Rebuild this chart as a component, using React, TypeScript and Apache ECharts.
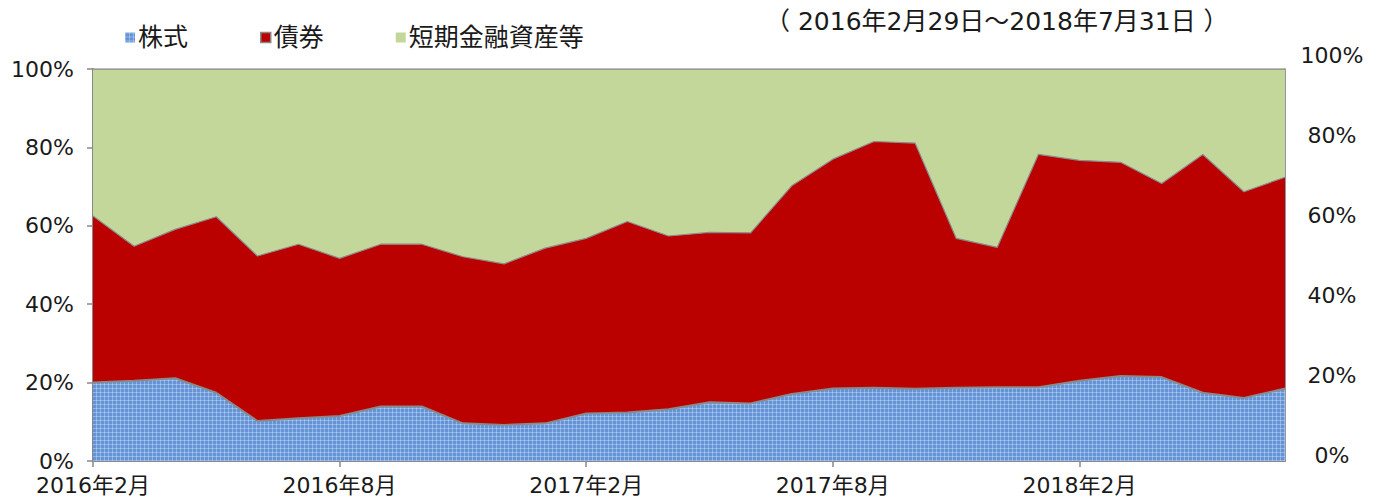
import React, { useEffect, useRef } from "react";
import * as echarts from "echarts";

const months = [
  "2016年2月", "2016年3月", "2016年4月", "2016年5月", "2016年6月", "2016年7月",
  "2016年8月", "2016年9月", "2016年10月", "2016年11月", "2016年12月", "2017年1月",
  "2017年2月", "2017年3月", "2017年4月", "2017年5月", "2017年6月", "2017年7月",
  "2017年8月", "2017年9月", "2017年10月", "2017年11月", "2017年12月", "2018年1月",
  "2018年2月", "2018年3月", "2018年4月", "2018年5月", "2018年6月", "2018年7月",
];

const stocks = [
  20.0, 20.5, 21.1, 17.4, 10.2, 10.9, 11.5, 13.9, 13.9, 9.6,
  9.2, 9.6, 12.1, 12.4, 13.2, 15.0, 14.7, 17.1, 18.5, 18.7,
  18.4, 18.7, 18.8, 18.8, 20.5, 21.7, 21.4, 17.4, 16.1, 18.5,
];

const bonds = [
  42.5, 34.3, 38.0, 44.9, 42.1, 44.4, 40.2, 41.4, 41.4, 42.5,
  41.1, 44.7, 44.7, 48.7, 44.2, 43.3, 43.5, 53.1, 58.5, 62.8,
  62.7, 38.1, 35.7, 59.4, 56.2, 54.5, 49.4, 60.8, 52.6, 53.9,
];

const shortTerm = [
  37.5, 45.2, 40.9, 37.7, 47.7, 44.7, 48.3, 44.7, 44.7, 47.9,
  49.7, 45.7, 43.2, 38.9, 42.6, 41.7, 41.8, 29.8, 23.0, 18.5,
  18.9, 43.2, 45.5, 21.8, 23.3, 23.8, 29.2, 21.8, 31.3, 27.6,
];

const seriesNames = ["株式", "債券", "短期金融資産等"];
const subtitle = "（ 2016年2月29日～2018年7月31日 ）";
const yTicks = { min: 0, max: 100, interval: 20 };

const FONT = "'DejaVu Sans', 'Noto Sans CJK JP', sans-serif";

function makePattern(): any {
  const c = document.createElement("canvas");
  c.width = 4;
  c.height = 4;
  const ctx = c.getContext("2d");
  if (!ctx) return "#6a9ad8";
  ctx.fillStyle = "#6494d6";
  ctx.fillRect(0, 0, 4, 4);
  ctx.fillStyle = "#8fb3e6";
  ctx.fillRect(0, 0, 4, 1);
  ctx.fillRect(0, 0, 1, 4);
  ctx.fillStyle = "#b3cbee";
  ctx.fillRect(0, 0, 1, 1);
  return { image: c, repeat: "repeat" };
}

export default function App() {
  const ref = useRef<HTMLDivElement>(null);
  useEffect(() => {
    if (!ref.current) return;
    const chart = echarts.init(ref.current, undefined, { renderer: "svg" });
    const bluePattern = makePattern();
    const edge = "#8a8a8a";
    chart.setOption({
      animation: false,
      backgroundColor: "#ffffff",
      textStyle: { fontFamily: FONT },
      title: {
        text: subtitle,
        left: 760,
        top: 4,
        textStyle: { fontFamily: FONT, fontSize: 25, fontWeight: "normal", color: "#1a1a1a" },
      },
      legend: {
        left: 120,
        top: 20,
        itemWidth: 10,
        itemHeight: 10,
        itemGap: 72,
        icon: "rect",
        textStyle: { fontFamily: FONT, fontSize: 25, color: "#1a1a1a", padding: [0, 0, 0, -2] },
        data: [
          { name: seriesNames[0], itemStyle: { color: bluePattern, borderWidth: 0 } },
          { name: seriesNames[1], itemStyle: { color: "#bb0000", borderColor: "#888888", borderWidth: 1.5 } },
          { name: seriesNames[2], itemStyle: { color: "#c4d79b", borderWidth: 0 } },
        ],
      },
      grid: [
        { left: 93, right: 92, top: 69, bottom: 37 },
        { left: 93, right: 92, top: 55, bottom: 43 },
      ],
      xAxis: [
        {
          type: "category",
          gridIndex: 0,
          data: months,
          boundaryGap: false,
          axisLine: { lineStyle: { color: "#888888", width: 2 } },
          axisTick: { show: true, interval: 5, length: 6, lineStyle: { color: "#888888", width: 1.5 } },
          axisLabel: { interval: 5, margin: 13, fontSize: 22, color: "#1a1a1a", fontFamily: FONT },
          splitLine: { show: false },
        },
        { type: "value", gridIndex: 1, min: 0, max: 1, show: false },
      ],
      yAxis: [
        {
          type: "value",
          gridIndex: 0,
          ...yTicks,
          axisLine: { show: true, lineStyle: { color: "#888888", width: 2 } },
          axisTick: { show: true, length: 6, lineStyle: { color: "#888888", width: 1.5 } },
          axisLabel: { formatter: "{value}%", margin: 19, fontSize: 22, color: "#1a1a1a", fontFamily: FONT },
          splitLine: { show: false },
        },
        {
          type: "value",
          gridIndex: 0,
          position: "right",
          ...yTicks,
          axisLine: { show: true, lineStyle: { color: "#6f7480", width: 1.5 } },
          axisTick: { show: false },
          axisLabel: { show: false },
          splitLine: { show: false },
        },
        {
          type: "value",
          gridIndex: 1,
          position: "right",
          ...yTicks,
          axisLine: { show: false },
          axisTick: { show: false },
          axisLabel: { formatter: "{value}%", margin: 47, align: "center", fontSize: 22, color: "#1a1a1a", fontFamily: FONT },
          splitLine: { show: false },
        },
      ],
      series: [
        {
          name: seriesNames[0],
          type: "line",
          stack: "total",
          data: stocks,
          symbol: "none",
          lineStyle: { color: edge, width: 2 },
          itemStyle: { color: bluePattern },
          areaStyle: { color: bluePattern, opacity: 1 },
          z: 3,
        },
        {
          name: seriesNames[1],
          type: "line",
          stack: "total",
          data: bonds,
          symbol: "none",
          lineStyle: { color: edge, width: 1.2 },
          itemStyle: { color: "#bb0000" },
          areaStyle: { color: "#bb0000", opacity: 1 },
          z: 2,
        },
        {
          name: seriesNames[2],
          type: "line",
          stack: "total",
          data: shortTerm,
          symbol: "none",
          lineStyle: { color: edge, width: 1.5 },
          itemStyle: { color: "#c4d79b" },
          areaStyle: { color: "#c4d79b", opacity: 1 },
          z: 1,
        },
      ],
    });
    return () => chart.dispose();
  }, []);
  return (
    <div
      ref={ref}
      style={{ position: "absolute", left: 0, top: 0, width: 1377, height: 498 }}
    />
  );
}
